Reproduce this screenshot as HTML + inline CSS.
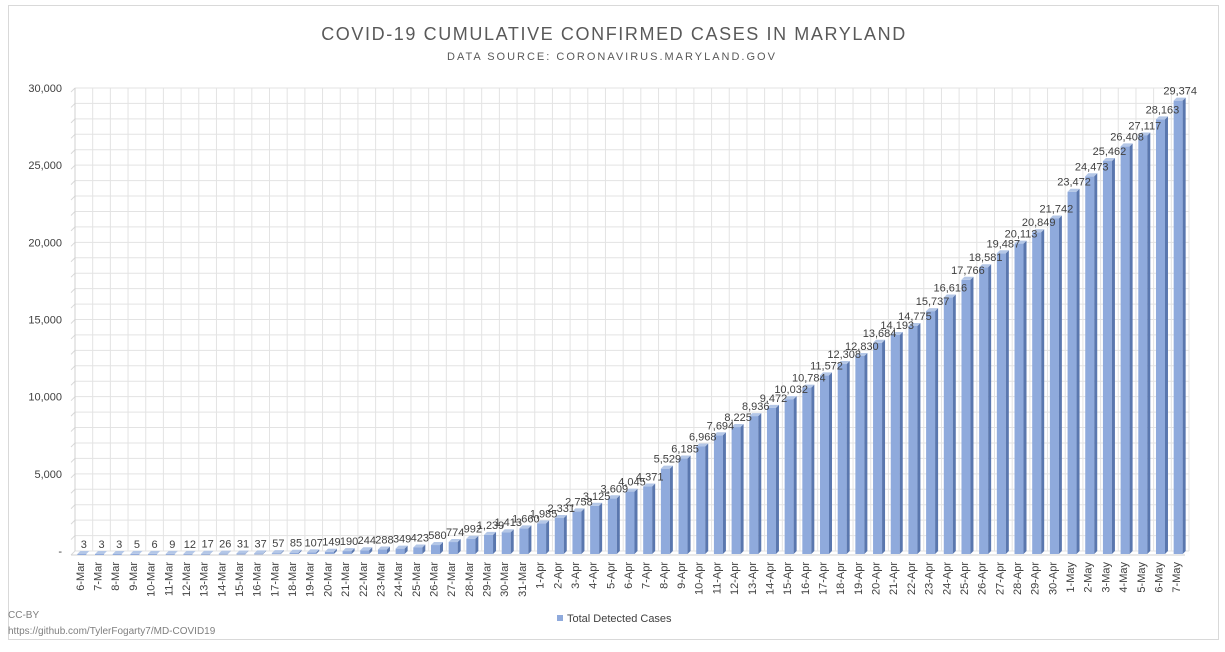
<!DOCTYPE html>
<html><head><meta charset="utf-8"><style>
body{margin:0;background:#fff;font-family:"Liberation Sans",sans-serif}
svg text{font-family:"Liberation Sans",sans-serif}
</style></head><body>
<svg id="chart" width="1225" height="647" xmlns="http://www.w3.org/2000/svg">
<rect x="8.5" y="5.5" width="1210" height="634" fill="#fff" stroke="#d9d9d9"/>
<text x="614" y="40" text-anchor="middle" font-size="18" letter-spacing="1.6" fill="#595959">COVID-19 CUMULATIVE CONFIRMED CASES IN MARYLAND</text>
<text x="612" y="60" text-anchor="middle" font-size="11" letter-spacing="2" fill="#595959">DATA SOURCE: CORONAVIRUS.MARYLAND.GOV</text>
<g id="grid"></g><g id="bars"></g><g id="labels"></g><g id="xlabels"></g><g id="ylabels"></g>
<rect x="557" y="615" width="6" height="6" fill="#8faadc"/>
<text x="567" y="622" font-size="11" fill="#404040">Total Detected Cases</text>
<text x="8" y="618" font-size="10" fill="#7f7f7f">CC-BY</text>
<text x="8" y="634" font-size="10" fill="#7f7f7f">https://github.com/TylerFogarty7/MD-COVID19</text>
</svg>
<script>
const values=[3,3,3,5,6,9,12,17,26,31,37,57,85,107,149,190,244,288,349,423,580,774,992,1239,1413,1660,1985,2331,2758,3125,3609,4045,4371,5529,6185,6968,7694,8225,8936,9472,10032,10784,11572,12308,12830,13684,14193,14775,15737,16616,17766,18581,19487,20113,20849,21742,23472,24473,25462,26408,27117,28163,29374];
const categories=[];
for(let d=6;d<=31;d++)categories.push(d+'-Mar');
for(let d=1;d<=30;d++)categories.push(d+'-Apr');
for(let d=1;d<=7;d++)categories.push(d+'-May');
const yTicks=[0,5000,10000,15000,20000,25000,30000];
const yTickLabels=['-','5,000','10,000','15,000','20,000','25,000','30,000'];
const NS='http://www.w3.org/2000/svg';
const L=75,R=1189,T=88,B=551,YMAX=30000;
const bw=(R-L)/categories.length;
const y=v=>B-(v/YMAX)*(B-T);
const x=i=>L+bw*(i+0.5);
function mk(tag,attrs,parent,txt){const e=document.createElementNS(NS,tag);for(const k in attrs)e.setAttribute(k,attrs[k]);if(txt!==undefined)e.textContent=txt;parent.appendChild(e);return e;}
const grid=document.getElementById('grid');
for(let v=0;v<=YMAX;v+=1000){
 const g=mk('line',{x1:L-4,y1:y(v)+4,x2:L,y2:y(v),stroke:'#d9d9d9'},grid);
 
 const h=mk('line',{x1:L,y1:y(v),x2:R,y2:y(v),stroke:'#e3e3e3'},grid);
 
}
for(let i=0;i<=categories.length;i++){
 const xx=L+bw*i;
 const v=mk('line',{x1:xx,y1:T,x2:xx,y2:B,stroke:'#e3e3e3'},grid);
 
}
mk('line',{x1:L,y1:T,x2:L,y2:B,stroke:'#d0d0d0'},grid);
mk('line',{x1:L-4,y1:B+4,x2:R-4,y2:B+4,stroke:'#d0d0d0'},grid);
const bars=document.getElementById('bars'),labels=document.getElementById('labels'),xl=document.getElementById('xlabels'),yl=document.getElementById('ylabels');
values.forEach((v,i)=>{
 const cx=x(i)-2,w=9,top=y(v)+3,bot=B+3;
 const g=mk('g',{},bars);
 
 
 mk('rect',{x:cx-w/2,y:top,width:w,height:Math.max(bot-top,1),fill:'#8faadc'},g);
 mk('polygon',{points:`${cx+w/2},${top} ${cx+w/2+3},${top-3} ${cx+w/2+3},${bot-3} ${cx+w/2},${bot}`,fill:'#5a77ae'},g);
 mk('polygon',{points:`${cx-w/2},${top} ${cx-w/2+3},${top-3} ${cx+w/2+3},${top-3} ${cx+w/2},${top}`,fill:'#b4c7e7'},g);
 const t=mk('text',{x:x(i),y:y(v)-3,'text-anchor':'middle','font-size':11,fill:'#404040'},labels,v.toLocaleString('en-US'));
 
 
 const lx=x(i)-4;
 const c=mk('text',{x:0,y:0,'text-anchor':'end','font-size':11,fill:'#404040',transform:`translate(${lx+4},${B+11}) rotate(-90)`},xl,categories[i]);
 
 
});
yTicks.forEach((v,i)=>{
 const t=mk('text',{x:62,y:y(v)+4,'text-anchor':'end','font-size':11,fill:'#404040'},yl,yTickLabels[i]);
 
 
});
</script>
</body></html>
